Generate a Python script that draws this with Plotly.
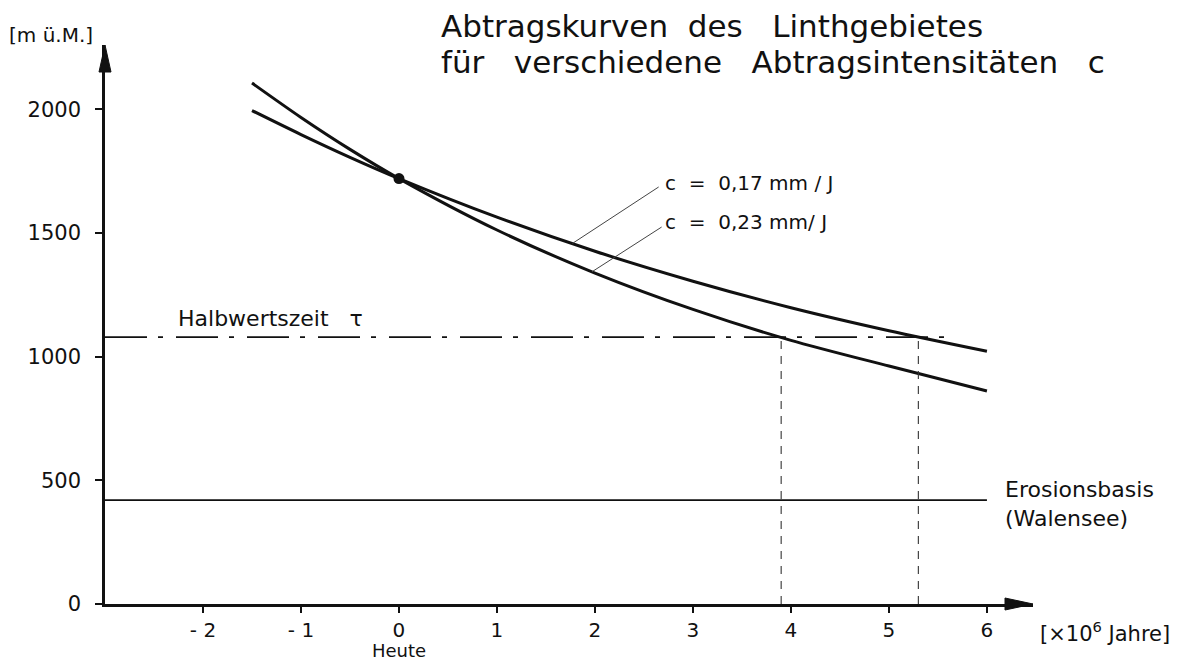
import plotly.graph_objects as go

# ---------------- data ----------------
t_years = [-1.5, -1.0, -0.5, 0.0, 1.0, 2.0, 3.0, 4.0, 5.0, 6.0]
h_c017 = [1995, 1898, 1806, 1720, 1564, 1426, 1305, 1198, 1105, 1022]
h_c023 = [2106, 1967, 1838, 1720, 1512, 1338, 1191, 1066, 962, 861]
today_t = [0.0]
today_h = [1720]
half_level = 1079
half_level_end = 5.65
half_times = [3.9, 5.3]
erosion_base = 420
erosion_end = 6.0

x_tick_vals = [-2, -1, 0, 1, 2, 3, 4, 5, 6]
x_tick_text = ["- 2", "- 1", "0", "1", "2", "3", "4", "5", "6"]
y_tick_vals = [0, 500, 1000, 1500, 2000]
y_tick_text = ["0", "500", "1000", "1500", "2000"]

label_c017 = "c  =  0,17 mm / J"
label_c023 = "c  =  0,23 mm/ J"

# ---------------- layout constants ----------------
X0, X1 = -3.0, 6.47
Y0, Y1 = 0, 2260
W, H = 1177, 655          # page body adds an 8 px margin
ML, MR, MT, MB = 97, 152, 37, 59
PW, PH = W - ML - MR, H - MT - MB
FONT = "DejaVu Sans"
INK = "#111111"

fig = go.Figure()

# curves
for ys in (h_c017, h_c023):
    fig.add_trace(go.Scatter(x=t_years, y=ys, mode="lines",
                             line=dict(color=INK, width=3, shape="spline", smoothing=0.8),
                             hoverinfo="skip"))
fig.add_trace(go.Scatter(x=today_t, y=today_h, mode="markers",
                         marker=dict(color=INK, size=11), hoverinfo="skip"))

# half-life level (dash-dot)
fig.add_trace(go.Scatter(x=[X0, half_level_end], y=[half_level, half_level], mode="lines",
                         line=dict(color=INK, width=1.6, dash="42px,11px,5px,13px"),
                         hoverinfo="skip"))
# vertical dashed lines at half times
for ht in half_times:
    fig.add_trace(go.Scatter(x=[ht, ht], y=[Y0, half_level], mode="lines",
                             line=dict(color="#333333", width=1.1, dash="8px,7px"),
                             hoverinfo="skip"))
# erosion base
fig.add_trace(go.Scatter(x=[X0, erosion_end], y=[erosion_base, erosion_base], mode="lines",
                         line=dict(color=INK, width=1.6), hoverinfo="skip"))


def curve_at(xs, ys, x):
    for i in range(len(xs) - 1):
        if xs[i] <= x <= xs[i + 1]:
            f = (x - xs[i]) / (xs[i + 1] - xs[i])
            return ys[i] + f * (ys[i + 1] - ys[i])
    return ys[-1]


# leader lines for labels
lead017 = (1.77, 2.65, 1686)
lead023 = (1.97, 2.68, 1524)
for (xa, xb, yb), ys in ((lead017, h_c017), (lead023, h_c023)):
    fig.add_trace(go.Scatter(x=[xa, xb], y=[curve_at(t_years, ys, xa), yb], mode="lines",
                             line=dict(color="#444444", width=1), hoverinfo="skip"))


def px(x):
    return (x - X0) / (X1 - X0)


def py(y):
    return (y - Y0) / (Y1 - Y0)


# arrowheads (paper coords)
aw_x = 6 / PW
aw_y = 6 / PH
fig.add_shape(type="path", xref="paper", yref="paper",
              path=f"M {-aw_x},{1 - 27 / PH} L 0,1 L {aw_x},{1 - 27 / PH} Z",
              fillcolor=INK, line=dict(color=INK, width=1))
fig.add_shape(type="path", xref="paper", yref="paper",
              path=f"M {1 - 28 / PW},{-aw_y} L 1,0 L {1 - 28 / PW},{aw_y} Z",
              fillcolor=INK, line=dict(color=INK, width=1))

ann = []


def add_text(text, x, y, size, xanchor="left", yanchor="middle"):
    ann.append(dict(text=text, x=px(x), y=py(y), xref="paper", yref="paper", showarrow=False,
                    xanchor=xanchor, yanchor=yanchor, borderpad=0,
                    font=dict(family=FONT, size=size, color=INK)))


add_text("Abtragskurven  des   Linthgebietes", 0.42, 2338, 31)
add_text("für   verschiedene   Abtragsintensitäten   c", 0.42, 2190, 31)
add_text("[m ü.M.]", -3.99, 2300, 20)
add_text(label_c017, 2.70, 1702, 20)
add_text(label_c023, 2.70, 1544, 20)
add_text("Halbwertszeit   τ", -2.27, 1156, 22)
add_text("Erosionsbasis", 6.17, 461, 22)
add_text("(Walensee)", 6.17, 344, 22)
add_text("Heute", 0.0, -233, 18, xanchor="center", yanchor="bottom")
add_text("[×10<sup>6</sup> Jahre]", 6.53, -113, 21)

fig.update_layout(
    width=W, height=H,
    margin=dict(l=ML, r=MR, t=MT, b=MB),
    paper_bgcolor="white", plot_bgcolor="white",
    showlegend=False,
    annotations=ann,
    xaxis=dict(range=[X0, X1], showgrid=False, zeroline=False, showline=True,
               linecolor=INK, linewidth=2.5, ticks="outside", ticklen=6, tickwidth=2,
               tickcolor=INK, tickvals=x_tick_vals, ticktext=x_tick_text,
               tickfont=dict(family=FONT, size=20, color=INK), ticklabelstandoff=0),
    yaxis=dict(range=[Y0, Y1], showgrid=False, zeroline=False, showline=True,
               linecolor=INK, linewidth=2.5, ticks="outside", ticklen=7, tickwidth=2,
               tickcolor=INK, tickvals=y_tick_vals, ticktext=y_tick_text,
               tickfont=dict(family=FONT, size=21, color=INK), ticklabelstandoff=10),
)

fig.write_html("out.html")
